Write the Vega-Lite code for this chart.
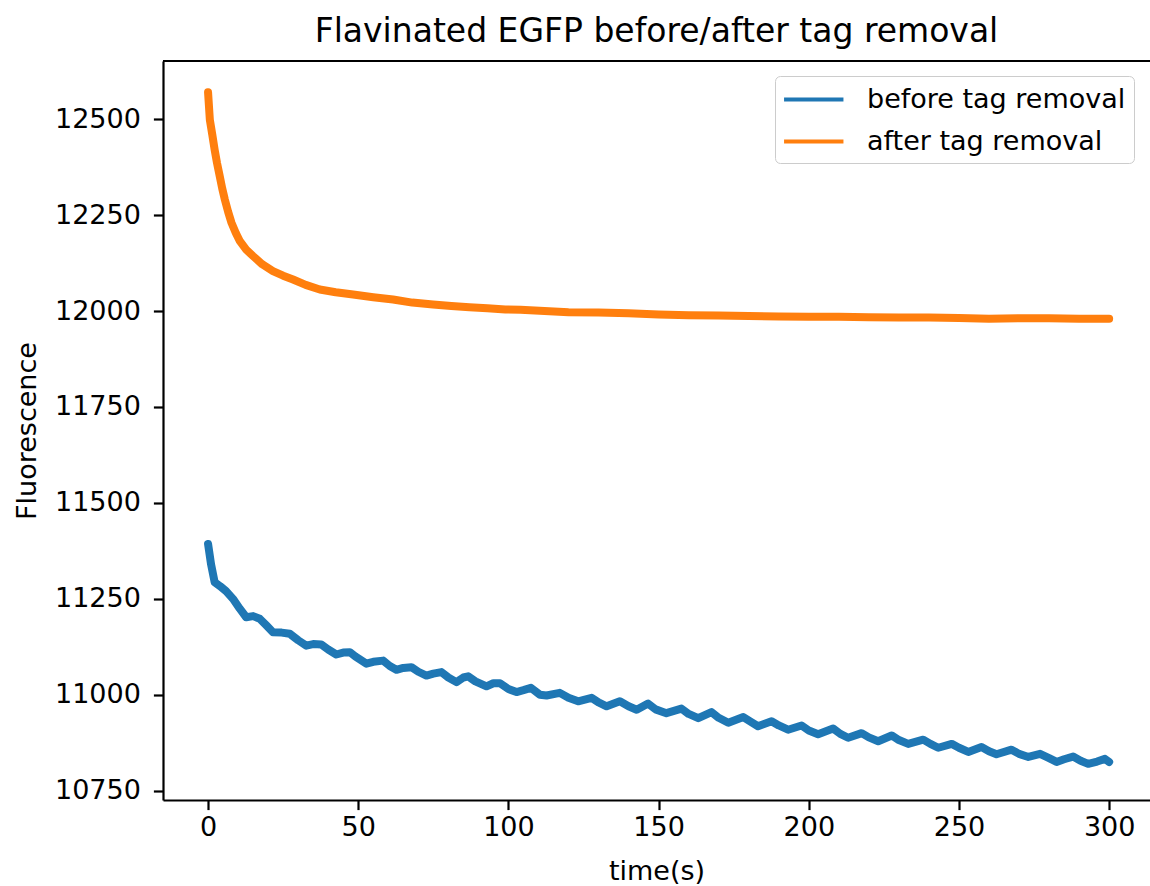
{
  "$schema": "https://vega.github.io/schema/vega-lite/v6.json",
  "autosize": {"type": "none"},
  "padding": {"left": 163, "top": 61, "right": 0, "bottom": 86},
  "width": 987,
  "height": 739,
  "background": "white",
  "title": {"text": "Flavinated EGFP before/after tag removal", "fontSize": 33, "font": "DejaVu Sans", "fontWeight": "normal", "color": "black", "baseline": "alphabetic", "offset": -15, "anchor": "middle"},
  "config": {
    "view": {"stroke": null},
    "font": "DejaVu Sans",
    "axis": {"labelFont": "DejaVu Sans", "titleFont": "DejaVu Sans", "labelFontSize": 27, "titleFontSize": 27, "titleFontWeight": "normal", "labelColor": "black", "titleColor": "black", "domainColor": "black", "tickColor": "black", "domainWidth": 2.2, "tickWidth": 2.2, "tickSize": 9.6, "grid": false}
  },
  "data": {"values": [
    {"t": 0, "v": 11393, "series": "before tag removal"},
    {"t": 1, "v": 11340, "series": "before tag removal"},
    {"t": 2.2, "v": 11293, "series": "before tag removal"},
    {"t": 4, "v": 11283, "series": "before tag removal"},
    {"t": 6, "v": 11270, "series": "before tag removal"},
    {"t": 8.3, "v": 11250, "series": "before tag removal"},
    {"t": 10.5, "v": 11225, "series": "before tag removal"},
    {"t": 12.7, "v": 11202, "series": "before tag removal"},
    {"t": 15, "v": 11205, "series": "before tag removal"},
    {"t": 17.2, "v": 11198, "series": "before tag removal"},
    {"t": 19.5, "v": 11180, "series": "before tag removal"},
    {"t": 21.6, "v": 11163, "series": "before tag removal"},
    {"t": 24.5, "v": 11162, "series": "before tag removal"},
    {"t": 27.2, "v": 11159, "series": "before tag removal"},
    {"t": 30, "v": 11142, "series": "before tag removal"},
    {"t": 32.7, "v": 11128, "series": "before tag removal"},
    {"t": 35, "v": 11132, "series": "before tag removal"},
    {"t": 37.7, "v": 11131, "series": "before tag removal"},
    {"t": 40, "v": 11118, "series": "before tag removal"},
    {"t": 42.7, "v": 11105, "series": "before tag removal"},
    {"t": 45, "v": 11110, "series": "before tag removal"},
    {"t": 47.2, "v": 11111, "series": "before tag removal"},
    {"t": 49, "v": 11100, "series": "before tag removal"},
    {"t": 52.7, "v": 11081, "series": "before tag removal"},
    {"t": 55, "v": 11086, "series": "before tag removal"},
    {"t": 58.3, "v": 11089, "series": "before tag removal"},
    {"t": 60.5, "v": 11075, "series": "before tag removal"},
    {"t": 62.7, "v": 11065, "series": "before tag removal"},
    {"t": 65, "v": 11070, "series": "before tag removal"},
    {"t": 67.7, "v": 11072, "series": "before tag removal"},
    {"t": 70, "v": 11060, "series": "before tag removal"},
    {"t": 72.7, "v": 11050, "series": "before tag removal"},
    {"t": 75, "v": 11055, "series": "before tag removal"},
    {"t": 77.7, "v": 11059, "series": "before tag removal"},
    {"t": 80, "v": 11045, "series": "before tag removal"},
    {"t": 82.7, "v": 11033, "series": "before tag removal"},
    {"t": 85, "v": 11045, "series": "before tag removal"},
    {"t": 86.6, "v": 11048, "series": "before tag removal"},
    {"t": 89, "v": 11035, "series": "before tag removal"},
    {"t": 92.7, "v": 11022, "series": "before tag removal"},
    {"t": 95, "v": 11030, "series": "before tag removal"},
    {"t": 97.2, "v": 11030, "series": "before tag removal"},
    {"t": 100, "v": 11015, "series": "before tag removal"},
    {"t": 102.7, "v": 11007, "series": "before tag removal"},
    {"t": 105, "v": 11012, "series": "before tag removal"},
    {"t": 107.5, "v": 11018, "series": "before tag removal"},
    {"t": 110.5, "v": 11000, "series": "before tag removal"},
    {"t": 112.7, "v": 10998, "series": "before tag removal"},
    {"t": 117.1, "v": 11005, "series": "before tag removal"},
    {"t": 120, "v": 10992, "series": "before tag removal"},
    {"t": 123.2, "v": 10983, "series": "before tag removal"},
    {"t": 127.7, "v": 10992, "series": "before tag removal"},
    {"t": 130, "v": 10980, "series": "before tag removal"},
    {"t": 132.7, "v": 10970, "series": "before tag removal"},
    {"t": 137.1, "v": 10983, "series": "before tag removal"},
    {"t": 140, "v": 10970, "series": "before tag removal"},
    {"t": 142.7, "v": 10961, "series": "before tag removal"},
    {"t": 146.5, "v": 10977, "series": "before tag removal"},
    {"t": 149, "v": 10962, "series": "before tag removal"},
    {"t": 152.6, "v": 10952, "series": "before tag removal"},
    {"t": 157.6, "v": 10964, "series": "before tag removal"},
    {"t": 160, "v": 10950, "series": "before tag removal"},
    {"t": 163.2, "v": 10939, "series": "before tag removal"},
    {"t": 167.6, "v": 10955, "series": "before tag removal"},
    {"t": 170, "v": 10940, "series": "before tag removal"},
    {"t": 173.2, "v": 10927, "series": "before tag removal"},
    {"t": 178.2, "v": 10942, "series": "before tag removal"},
    {"t": 181, "v": 10928, "series": "before tag removal"},
    {"t": 183.1, "v": 10918, "series": "before tag removal"},
    {"t": 187.6, "v": 10931, "series": "before tag removal"},
    {"t": 190, "v": 10920, "series": "before tag removal"},
    {"t": 193.1, "v": 10909, "series": "before tag removal"},
    {"t": 197.6, "v": 10920, "series": "before tag removal"},
    {"t": 200, "v": 10907, "series": "before tag removal"},
    {"t": 203.1, "v": 10897, "series": "before tag removal"},
    {"t": 208.1, "v": 10912, "series": "before tag removal"},
    {"t": 210.5, "v": 10898, "series": "before tag removal"},
    {"t": 213.1, "v": 10888, "series": "before tag removal"},
    {"t": 217.6, "v": 10900, "series": "before tag removal"},
    {"t": 220, "v": 10889, "series": "before tag removal"},
    {"t": 223.1, "v": 10879, "series": "before tag removal"},
    {"t": 227.6, "v": 10894, "series": "before tag removal"},
    {"t": 230, "v": 10882, "series": "before tag removal"},
    {"t": 233.1, "v": 10872, "series": "before tag removal"},
    {"t": 238.1, "v": 10883, "series": "before tag removal"},
    {"t": 240.5, "v": 10872, "series": "before tag removal"},
    {"t": 243.1, "v": 10862, "series": "before tag removal"},
    {"t": 247.6, "v": 10872, "series": "before tag removal"},
    {"t": 250, "v": 10862, "series": "before tag removal"},
    {"t": 253.1, "v": 10851, "series": "before tag removal"},
    {"t": 257.5, "v": 10864, "series": "before tag removal"},
    {"t": 260, "v": 10853, "series": "before tag removal"},
    {"t": 262.5, "v": 10845, "series": "before tag removal"},
    {"t": 267.5, "v": 10857, "series": "before tag removal"},
    {"t": 270, "v": 10846, "series": "before tag removal"},
    {"t": 273.1, "v": 10838, "series": "before tag removal"},
    {"t": 277, "v": 10846, "series": "before tag removal"},
    {"t": 280, "v": 10835, "series": "before tag removal"},
    {"t": 282.5, "v": 10825, "series": "before tag removal"},
    {"t": 285, "v": 10832, "series": "before tag removal"},
    {"t": 288, "v": 10839, "series": "before tag removal"},
    {"t": 290.5, "v": 10828, "series": "before tag removal"},
    {"t": 293, "v": 10820, "series": "before tag removal"},
    {"t": 296, "v": 10826, "series": "before tag removal"},
    {"t": 298.6, "v": 10833, "series": "before tag removal"},
    {"t": 300, "v": 10825, "series": "before tag removal"},
    {"t": 0, "v": 12570, "series": "after tag removal"},
    {"t": 0.6, "v": 12498, "series": "after tag removal"},
    {"t": 1.4, "v": 12460, "series": "after tag removal"},
    {"t": 2.2, "v": 12420, "series": "after tag removal"},
    {"t": 3, "v": 12385, "series": "after tag removal"},
    {"t": 3.9, "v": 12351, "series": "after tag removal"},
    {"t": 4.7, "v": 12320, "series": "after tag removal"},
    {"t": 5.6, "v": 12290, "series": "after tag removal"},
    {"t": 6.7, "v": 12258, "series": "after tag removal"},
    {"t": 7.8, "v": 12230, "series": "after tag removal"},
    {"t": 9.2, "v": 12204, "series": "after tag removal"},
    {"t": 10.6, "v": 12182, "series": "after tag removal"},
    {"t": 12.7, "v": 12160, "series": "after tag removal"},
    {"t": 15, "v": 12143, "series": "after tag removal"},
    {"t": 18, "v": 12122, "series": "after tag removal"},
    {"t": 21.6, "v": 12104, "series": "after tag removal"},
    {"t": 25, "v": 12092, "series": "after tag removal"},
    {"t": 28.3, "v": 12082, "series": "after tag removal"},
    {"t": 32.5, "v": 12068, "series": "after tag removal"},
    {"t": 37.2, "v": 12056, "series": "after tag removal"},
    {"t": 42.5, "v": 12049, "series": "after tag removal"},
    {"t": 48.3, "v": 12043, "series": "after tag removal"},
    {"t": 55, "v": 12036, "series": "after tag removal"},
    {"t": 61.6, "v": 12030, "series": "after tag removal"},
    {"t": 68, "v": 12022, "series": "after tag removal"},
    {"t": 74.9, "v": 12017, "series": "after tag removal"},
    {"t": 81, "v": 12013, "series": "after tag removal"},
    {"t": 87, "v": 12010, "series": "after tag removal"},
    {"t": 93, "v": 12007, "series": "after tag removal"},
    {"t": 99, "v": 12004, "series": "after tag removal"},
    {"t": 104, "v": 12003, "series": "after tag removal"},
    {"t": 112, "v": 12000, "series": "after tag removal"},
    {"t": 120, "v": 11997, "series": "after tag removal"},
    {"t": 130, "v": 11996, "series": "after tag removal"},
    {"t": 140, "v": 11994, "series": "after tag removal"},
    {"t": 150, "v": 11991, "series": "after tag removal"},
    {"t": 160, "v": 11989, "series": "after tag removal"},
    {"t": 170, "v": 11988, "series": "after tag removal"},
    {"t": 180, "v": 11987, "series": "after tag removal"},
    {"t": 190, "v": 11986, "series": "after tag removal"},
    {"t": 200, "v": 11985, "series": "after tag removal"},
    {"t": 210, "v": 11985, "series": "after tag removal"},
    {"t": 220, "v": 11984, "series": "after tag removal"},
    {"t": 230, "v": 11983, "series": "after tag removal"},
    {"t": 240, "v": 11983, "series": "after tag removal"},
    {"t": 250, "v": 11982, "series": "after tag removal"},
    {"t": 260, "v": 11980, "series": "after tag removal"},
    {"t": 270, "v": 11981, "series": "after tag removal"},
    {"t": 280, "v": 11981, "series": "after tag removal"},
    {"t": 290, "v": 11980, "series": "after tag removal"},
    {"t": 300, "v": 11980, "series": "after tag removal"}
  ]},
  "layer": [
    {
      "mark": {"type": "line", "strokeWidth": 8, "strokeCap": "round", "strokeJoin": "round"},
      "encoding": {
        "x": {"field": "t", "type": "quantitative", "scale": {"domain": [-15, 313.6], "nice": false, "zero": false}, "axis": {"title": "time(s)", "values": [0, 50, 100, 150, 200, 250, 300], "format": "d", "labelPadding": 5, "titlePadding": 18}},
        "y": {"field": "v", "type": "quantitative", "scale": {"domain": [10725.8, 12651.5], "nice": false, "zero": false}, "axis": {"title": "Fluorescence", "values": [10750, 11000, 11250, 11500, 11750, 12000, 12250, 12500], "format": "d", "labelPadding": 13, "titlePadding": 13}},
        "color": {"field": "series", "type": "nominal", "sort": ["before tag removal", "after tag removal"], "scale": {"domain": ["before tag removal", "after tag removal"], "range": ["#1f77b4", "#ff7f0e"]},
          "legend": {"title": null, "orient": "none", "legendX": 612, "legendY": 15, "symbolType": "M-1.07,0L3.33,0", "symbolSize": 729, "symbolStrokeWidth": 4, "labelFontSize": 27, "labelFont": "DejaVu Sans", "labelColor": "black", "labelOffset": 53, "labelLimit": 500, "padding": 8, "rowPadding": 13, "strokeColor": "#cccccc", "fillColor": "rgba(255,255,255,0.8)", "cornerRadius": 5}}
      }
    },
    {
      "mark": {"type": "rule", "color": "black", "strokeWidth": 2.2},
      "encoding": {"y": {"datum": 12651.5}}
    }
  ]
}
